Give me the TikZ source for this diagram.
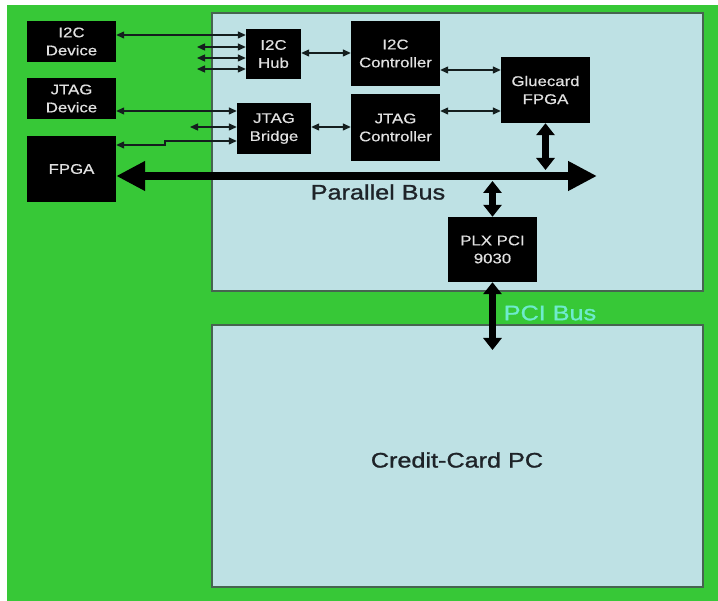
\documentclass[tikz,border=0pt]{standalone}
\usepackage{fontspec}
\setmainfont{Liberation Sans}
\newfontfamily\widefont[FakeStretch=1.2,FakeBold=0.5]{Liberation Sans}
\newfontfamily\bigfont[FakeStretch=1.2,FakeBold=1.2]{Liberation Sans}
\usetikzlibrary{arrows.meta}
\definecolor{bggreen}{RGB}{55,200,55}
\definecolor{panel}{RGB}{190,225,228}
\definecolor{panelline}{RGB}{70,100,80}
\definecolor{boxtext}{RGB}{225,225,225}
\definecolor{darktext}{RGB}{30,35,40}
\definecolor{pcitext}{RGB}{110,235,205}
\definecolor{wire}{RGB}{20,30,30}
\tikzset{
  blk/.style={fill=black, draw=none, inner sep=0pt, text=boxtext, align=center,
    font=\widefont\fontsize{14}{18}\selectfont},
  panelbox/.style={fill=panel, draw=panelline, line width=1.5pt},
  thin/.style={draw=wire, line width=1.3pt, {Triangle[length=8pt,width=7pt]}-{Triangle[length=8pt,width=7pt]}},
  busarrow/.style={draw=black, line width=8pt, {Triangle[length=29pt,width=28pt]}-{Triangle[length=29pt,width=28pt]}},
  vbus/.style={draw=black, line width=7pt, {Triangle[length=12pt,width=18pt]}-{Triangle[length=12pt,width=18pt]}},
  biglabel/.style={inner sep=0pt, font=\bigfont\fontsize{21}{24}\selectfont}
}
\begin{document}
\begin{tikzpicture}[x=1pt,y=-1pt]
\useasboundingbox (0,0) rectangle (718,601);
\fill[white] (0,0) rectangle (718,601);
\fill[bggreen] (7,5) rectangle (722,605);
\draw[panelbox] (212,13) rectangle (703,291);
\draw[panelbox] (212,325) rectangle (703,587);

\node[blk, minimum width=89pt, minimum height=41pt] (i2cdev) at (71.5,41.5) {I2C\\Device};
\node[blk, minimum width=89pt, minimum height=41pt] (jtagdev) at (71.5,98.5) {JTAG\\Device};
\node[blk, minimum width=89pt, minimum height=66pt] (fpga) at (71.5,169) {FPGA};
\node[blk, minimum width=55pt, minimum height=50pt] (hub) at (273.5,54) {I2C\\Hub};
\node[blk, minimum width=74pt, minimum height=51pt] (bridge) at (274,128.5) {JTAG\\Bridge};
\node[blk, minimum width=89pt, minimum height=65pt] (i2cctl) at (395.5,53.5) {I2C\\Controller};
\node[blk, minimum width=89pt, minimum height=67pt] (jtagctl) at (395.5,127.5) {JTAG\\Controller};
\node[blk, minimum width=89pt, minimum height=66pt] (glue) at (545.5,90) {Gluecard\\FPGA};
\node[blk, minimum width=89pt, minimum height=65pt] (plx) at (492.5,249.5) {PLX PCI\\9030};

% thin connectors
\draw[thin] (i2cdev.east |- 0,35) -- (hub.west |- 0,35);
\coordinate (s1) at (197,47);
\coordinate (s2) at (197,58);
\coordinate (s3) at (197,69);
\draw[thin] (s1) -- (hub.west |- s1);
\draw[thin] (s2) -- (hub.west |- s2);
\draw[thin] (s3) -- (hub.west |- s3);
\draw[thin] (jtagdev.east |- 0,111) -- (bridge.west |- 0,111);
\coordinate (s4) at (190,127);
\draw[thin] (s4) -- (bridge.west |- s4);
\draw[thin] (fpga.east |- 0,145) -- (165,145) -- (165,141) -- (bridge.west |- 0,141);
\draw[thin] (hub.east |- 0,53) -- (i2cctl.west |- 0,53);
\draw[thin] (bridge.east |- 0,127) -- (jtagctl.west |- 0,127);
\draw[thin] (i2cctl.east |- 0,70) -- (glue.west |- 0,70);
\draw[thin] (jtagctl.east |- 0,111) -- (glue.west |- 0,111);

% buses
\coordinate (busend) at (597,176);
\draw[busarrow] (fpga.east |- busend) -- (busend);
\draw[vbus] (glue.south) -- (glue.south |- 0,170);
\draw[vbus] (plx.north |- 0,181) -- (plx.north);
\coordinate (pcc) at (492.5,350);
\draw[vbus] (plx.south) -- (pcc);

\node[biglabel, text=darktext] (pbus) at (378,192) {Parallel Bus};
\node[biglabel, text=pcitext] (pcibus) at (550,313) {PCI Bus};
\node[biglabel, text=darktext] (ccpc) at (457,460) {Credit-Card PC};
\end{tikzpicture}
\end{document}
